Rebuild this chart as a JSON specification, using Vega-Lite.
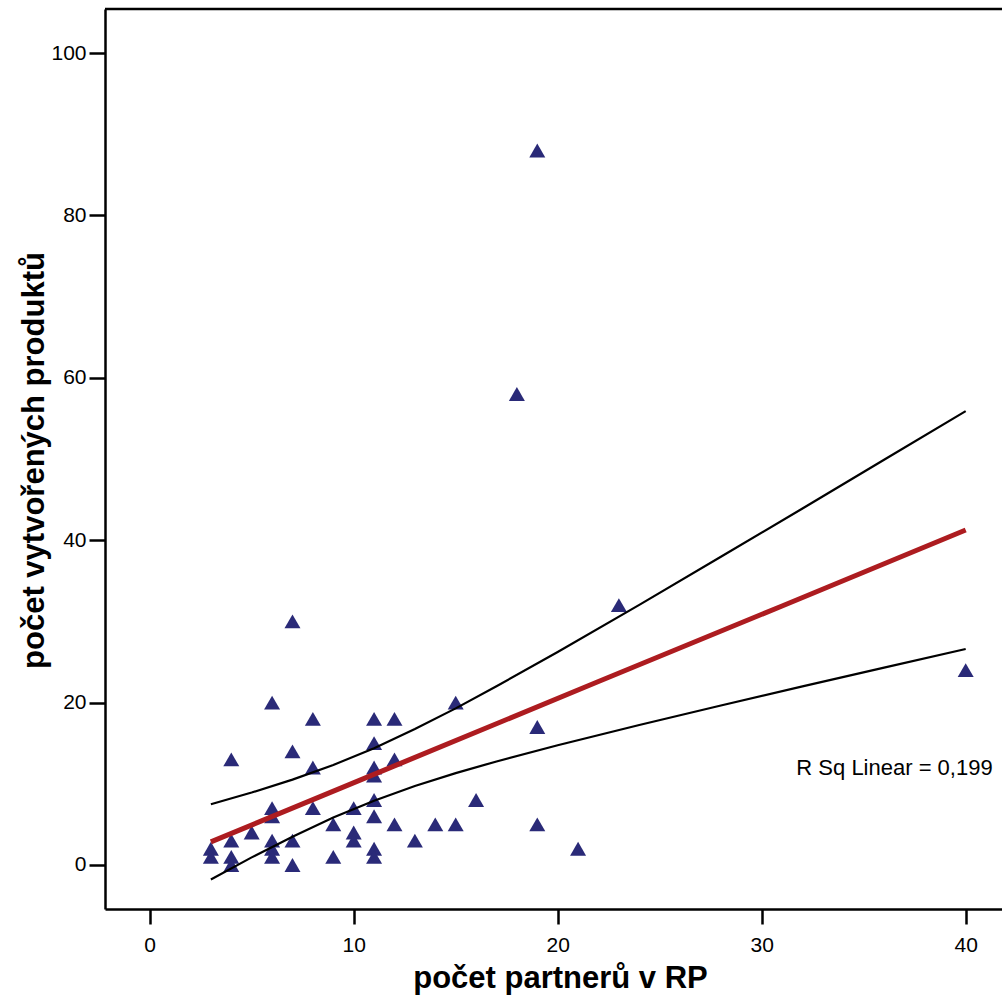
{
  "$schema": "https://vega.github.io/schema/vega-lite/v6.json",
  "width": 897,
  "height": 900,
  "autosize": "none",
  "padding": {"left": 105, "top": 9, "right": 0, "bottom": 92},
  "background": "white",
  "config": {"view": {"stroke": null}, "font": "Liberation Sans"},
  "datasets": {
    "points": [
      {"partners": 3, "products": 2}, {"partners": 3, "products": 1},
      {"partners": 4, "products": 13}, {"partners": 4, "products": 3}, {"partners": 4, "products": 1}, {"partners": 4, "products": 0},
      {"partners": 5, "products": 4},
      {"partners": 6, "products": 20}, {"partners": 6, "products": 7}, {"partners": 6, "products": 6}, {"partners": 6, "products": 3}, {"partners": 6, "products": 2}, {"partners": 6, "products": 1},
      {"partners": 7, "products": 30}, {"partners": 7, "products": 14}, {"partners": 7, "products": 3}, {"partners": 7, "products": 0},
      {"partners": 8, "products": 18}, {"partners": 8, "products": 12}, {"partners": 8, "products": 7},
      {"partners": 9, "products": 5}, {"partners": 9, "products": 1},
      {"partners": 10, "products": 7}, {"partners": 10, "products": 4}, {"partners": 10, "products": 3},
      {"partners": 11, "products": 18}, {"partners": 11, "products": 15}, {"partners": 11, "products": 12}, {"partners": 11, "products": 11}, {"partners": 11, "products": 8}, {"partners": 11, "products": 6}, {"partners": 11, "products": 2}, {"partners": 11, "products": 1},
      {"partners": 12, "products": 18}, {"partners": 12, "products": 13}, {"partners": 12, "products": 5},
      {"partners": 13, "products": 3},
      {"partners": 14, "products": 5},
      {"partners": 15, "products": 20}, {"partners": 15, "products": 5},
      {"partners": 16, "products": 8},
      {"partners": 18, "products": 58},
      {"partners": 19, "products": 88}, {"partners": 19, "products": 17}, {"partners": 19, "products": 5},
      {"partners": 21, "products": 2},
      {"partners": 23, "products": 32},
      {"partners": 40, "products": 24}
    ],
    "fit": [
      {"partners": 3, "products": 2.85},
      {"partners": 12, "products": 12.2},
      {"partners": 22, "products": 22.6},
      {"partners": 31, "products": 31.9},
      {"partners": 40, "products": 41.25}
    ],
    "ci": [
      {"band": "upper", "partners": 3, "products": 7.48},
      {"band": "upper", "partners": 5, "products": 8.92},
      {"band": "upper", "partners": 7, "products": 10.51},
      {"band": "upper", "partners": 9, "products": 12.32},
      {"band": "upper", "partners": 11, "products": 14.39},
      {"band": "upper", "partners": 13, "products": 16.74},
      {"band": "upper", "partners": 15, "products": 19.29},
      {"band": "upper", "partners": 17, "products": 22.01},
      {"band": "upper", "partners": 20, "products": 26.23},
      {"band": "upper", "partners": 24, "products": 32.04},
      {"band": "upper", "partners": 28, "products": 37.96},
      {"band": "upper", "partners": 32, "products": 43.91},
      {"band": "upper", "partners": 36, "products": 49.9},
      {"band": "upper", "partners": 40, "products": 55.9},
      {"band": "lower", "partners": 3, "products": -1.78},
      {"band": "lower", "partners": 5, "products": 0.94},
      {"band": "lower", "partners": 7, "products": 3.49},
      {"band": "lower", "partners": 9, "products": 5.84},
      {"band": "lower", "partners": 11, "products": 7.91},
      {"band": "lower", "partners": 13, "products": 9.72},
      {"band": "lower", "partners": 15, "products": 11.31},
      {"band": "lower", "partners": 17, "products": 12.75},
      {"band": "lower", "partners": 20, "products": 14.75},
      {"band": "lower", "partners": 24, "products": 17.24},
      {"band": "lower", "partners": 28, "products": 19.64},
      {"band": "lower", "partners": 32, "products": 21.99},
      {"band": "lower", "partners": 36, "products": 24.3},
      {"band": "lower", "partners": 40, "products": 26.6}
    ],
    "note": [
      {"partners": 31.7, "products": 12.0, "label": "R Sq Linear = 0,199"}
    ]
  },
  "layer": [
    {
      "data": {"name": "points"},
      "mark": {"type": "point", "shape": "triangle-up", "filled": true, "size": 256, "color": "#2a2a78", "opacity": 1, "strokeWidth": 0},
      "encoding": {
        "x": {
          "field": "partners", "type": "quantitative",
          "scale": {"domain": [-2.19, 41.78], "nice": false, "zero": false},
          "axis": {
            "values": [0, 10, 20, 30, 40], "grid": false,
            "domainColor": "black", "domainWidth": 2.5,
            "tickColor": "black", "tickWidth": 2.5, "tickSize": 15,
            "labelFontSize": 21, "labelColor": "black", "labelPadding": 10, "labelFont": "Liberation Sans",
            "title": "počet partnerů v RP", "titleFontSize": 31, "titleFontWeight": "bold", "titleColor": "black", "titleFont": "Liberation Sans",
            "titleX": 455, "titleY": 78, "titleBaseline": "alphabetic", "titleAlign": "center"
          }
        },
        "y": {
          "field": "products", "type": "quantitative",
          "scale": {"domain": [-5.42, 105.42], "nice": false, "zero": false},
          "axis": {
            "values": [0, 20, 40, 60, 80, 100], "grid": false,
            "domainColor": "black", "domainWidth": 2.5,
            "tickColor": "black", "tickWidth": 2.5, "tickSize": 16,
            "labelFontSize": 21, "labelColor": "black", "labelPadding": 3, "labelFont": "Liberation Sans",
            "title": "počet vytvořených produktů", "titleFontSize": 31, "titleFontWeight": "bold", "titleColor": "black", "titleFont": "Liberation Sans",
            "titleX": -62, "titleY": 451, "titleAngle": -90, "titleBaseline": "alphabetic", "titleAlign": "center"
          }
        }
      }
    },
    {
      "data": {"name": "ci"},
      "mark": {"type": "line", "color": "black", "strokeWidth": 2.2},
      "encoding": {
        "x": {"field": "partners", "type": "quantitative"},
        "y": {"field": "products", "type": "quantitative"},
        "detail": {"field": "band"}
      }
    },
    {
      "data": {"name": "fit"},
      "mark": {"type": "line", "color": "#ad1c20", "strokeWidth": 5},
      "encoding": {
        "x": {"field": "partners", "type": "quantitative"},
        "y": {"field": "products", "type": "quantitative"}
      }
    },
    {
      "data": {"name": "note"},
      "mark": {"type": "text", "align": "left", "baseline": "middle", "fontSize": 22, "font": "Liberation Sans", "color": "black"},
      "encoding": {
        "x": {"field": "partners", "type": "quantitative"},
        "y": {"field": "products", "type": "quantitative"},
        "text": {"field": "label"}
      }
    },
    {
      "data": {"values": [{}]},
      "mark": {"type": "rule", "color": "black", "strokeWidth": 2.5},
      "encoding": {"y": {"datum": 105.42, "type": "quantitative"}}
    }
  ]
}
